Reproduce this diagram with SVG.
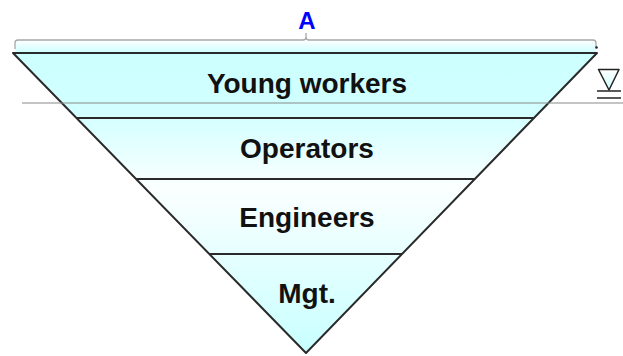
<svg xmlns="http://www.w3.org/2000/svg" width="623" height="356" viewBox="0 0 623 356">
  <defs>
    <linearGradient id="tri" gradientUnits="userSpaceOnUse" x1="0" y1="53" x2="0" y2="353">
      <stop offset="0" stop-color="#ccffff"/>
      <stop offset="0.2" stop-color="#d2ffff"/>
      <stop offset="0.45" stop-color="#fbffff"/>
      <stop offset="1" stop-color="#c8ffff"/>
    </linearGradient>
    <linearGradient id="cap" x1="0" y1="0" x2="0" y2="1">
      <stop offset="0" stop-color="#ffffff"/>
      <stop offset="1" stop-color="#ccffff"/>
    </linearGradient>
    <linearGradient id="wsym" x1="0" y1="0" x2="0" y2="1">
      <stop offset="0" stop-color="#ffffff"/>
      <stop offset="1" stop-color="#ccffff"/>
    </linearGradient>
  </defs>
  <style>
    .band { fill: url(#tri); stroke: none; }
    .edge { stroke: #2a2a2a; stroke-width: 2; fill: none; stroke-linejoin: round; }
    .lbl { font-family: "Liberation Sans", Arial, sans-serif; font-weight: bold; font-size: 28px; fill: #111; text-anchor: middle; }
    .dim { stroke: #a8a8a8; stroke-width: 1.3; fill: none; }
    .water { stroke: #8a8a8a; stroke-width: 1.2; }
  </style>
  <rect x="15" y="40" width="581" height="13" fill="url(#cap)"/>
  <g id="band-young">
    <polygon class="band" points="13,53 597,53 534,118 76.5,118"/>
    <text class="lbl" x="307" y="93">Young workers</text>
  </g>
  <g id="band-operators">
    <polygon class="band" points="76.5,118 534,118 474.8,179 136,179"/>
    <text class="lbl" x="307" y="158">Operators</text>
  </g>
  <g id="band-engineers">
    <polygon class="band" points="136,179 474.8,179 402,254 209.3,254"/>
    <text class="lbl" x="307" y="227">Engineers</text>
  </g>
  <g id="band-mgt">
    <polygon class="band" points="209.3,254 402,254 306,353"/>
    <text class="lbl" x="307" y="303">Mgt.</text>
  </g>
  <g id="connectors">
    <polygon class="edge" points="13,53 597,53 306,353"/>
    <line class="edge" x1="76.5" y1="118" x2="534" y2="118"/>
    <line class="edge" x1="136" y1="179" x2="474.8" y2="179"/>
    <line class="edge" x1="209.3" y1="254" x2="402" y2="254"/>
    <line class="water" x1="22" y1="103" x2="623" y2="103"/>
    <path class="dim" d="M15,49 V43 Q15,40 18,40 H303 Q306,40 306,37 V33 M306,37 Q306,40 309,40 H593 Q596,40 596,43 V47"/>
    <circle cx="596.5" cy="47.5" r="1.3" fill="#222"/>
  </g>
  <g id="label-A">
    <text x="307" y="29" font-family="'Liberation Sans', Arial, sans-serif" font-weight="bold" font-size="24" fill="#0000ff" text-anchor="middle">A</text>
  </g>
  <g id="water-symbol">
    <polygon points="598.5,69.5 619,69.5 609,90" fill="url(#wsym)" stroke="#222" stroke-width="1.5" stroke-linejoin="round"/>
    <line x1="597" y1="91" x2="621" y2="91" stroke="#222" stroke-width="1.5"/>
    <line x1="597" y1="98" x2="621" y2="98" stroke="#222" stroke-width="1.5"/>
  </g>
</svg>
